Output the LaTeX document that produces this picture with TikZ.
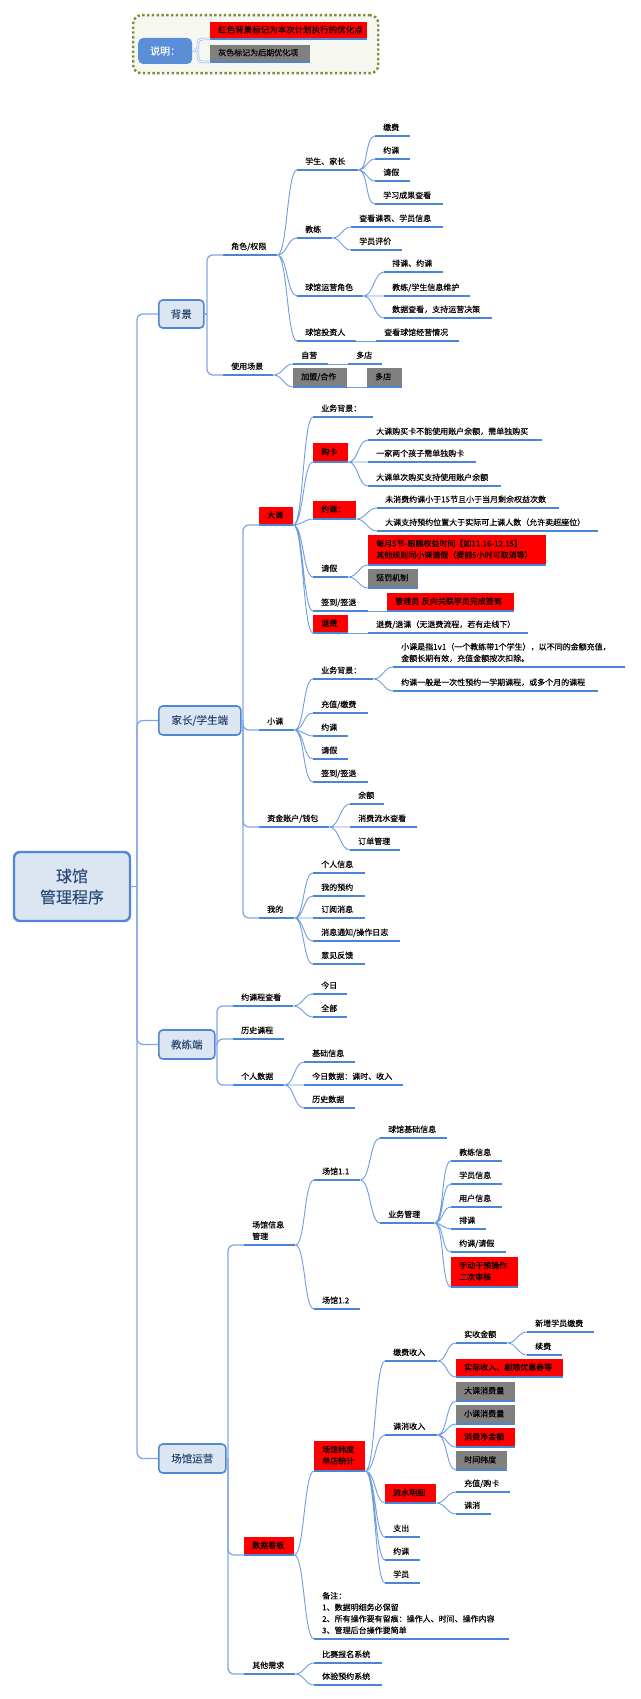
\documentclass[tikz,border=0pt]{standalone}
\usepackage{fontspec}
\setmainfont{Noto Sans CJK SC}[FakeBold=0.12]
\definecolor{lineblue}{RGB}{74,134,216}
\definecolor{connblue}{RGB}{112,157,226}
\definecolor{trunkblue}{RGB}{128,168,230}
\definecolor{boxfill}{RGB}{220,230,243}
\definecolor{boxdraw}{RGB}{80,134,212}
\definecolor{boxtext}{RGB}{45,75,120}
\definecolor{markred}{RGB}{255,0,0}
\definecolor{markgray}{RGB}{128,128,128}
\definecolor{keyblue}{RGB}{90,142,214}
\definecolor{framegreen}{RGB}{118,146,60}
\definecolor{framefill}{RGB}{245,247,240}
\newcommand{\leaffont}{\fontsize{8}{11.5}\selectfont}
\tikzset{
  uline/.style={draw=lineblue, fill=none, line width=2.2pt},
  topic base/.style={anchor=south west, inner xsep=8pt, inner ysep=3.5pt, align=left,
    font=\leaffont, text=black,
    execute at end node={\rule[-2pt]{0pt}{0pt}},
    append after command={(\tikzlastnode.south west) edge[uline] (\tikzlastnode.south east)}},
  topic/.code={\pgfmathsetlengthmacro\topicwd{#1-16}%
    \tikzset{topic base, text width/.expanded=\topicwd}},
  redbox/.style 2 args={topic=#1, fill=markred, minimum height=#2},
  graybox/.style 2 args={topic=#1, fill=markgray, minimum height=#2},
  mainbox/.style={draw=boxdraw, fill=boxfill, line width=1.6pt, rounded corners=4pt,
    text=boxtext, font=\fontsize{10.5}{12}\selectfont, anchor=west, inner sep=0pt},
  rootbox/.style={mainbox, line width=2.4pt, rounded corners=6pt, anchor=center,
    font=\fontsize{16}{21}\selectfont, align=center, minimum width=116, minimum height=69},
  curve/.style={draw=connblue, line width=0.9pt},
  link/.style={out=0, in=180, max distance=10pt},
  trunk/.style={draw=trunkblue, line width=1.3pt, rounded corners=6pt},
  bracket/.style={draw=trunkblue, double=white, double distance=1.2pt, line width=0.6pt, rounded corners=4pt},
}
\begin{document}
\begin{tikzpicture}[x=1pt, y=-1pt]
        \fill[white] (0,0) rectangle (640,1699);
        \useasboundingbox (0,0) rectangle (640,1699);
        \node[draw=framegreen, fill=framefill, line width=2.4pt, dash pattern=on 2.4pt off 2.4pt,
              rounded corners=8pt, minimum width=245, minimum height=58, anchor=north west,
              inner sep=0pt] (legend) at (132,14) {};
        \node[fill=keyblue, rounded corners=5pt, text=white, font=\fontsize{10}{12}\selectfont,
              minimum width=54, minimum height=26, anchor=west, inner sep=0pt] (legkey) at (138,51) {说明：};
        \node[redbox={157}{17}, font=\fontsize{8.5}{10}\selectfont] (legred) at (210,39) {红色背景标记为本次计划执行的优化点};
        \node[graybox={100}{17}] (leggray) at (210,62) {灰色标记为后期优化项};
        \coordinate (legfork) at (198,51);
        \draw[bracket] (legkey.east) -- (legfork) |- (legred.south west) (legfork) |- (leggray.south west);

        \node[rootbox] (root) at (72,886.5) {球馆\\管理程序};
        \node[mainbox, minimum width=45, minimum height=28] (bg) at (158,314) {背景};
        \node[mainbox, minimum width=82, minimum height=29] (ps) at (158,720.5) {家长/学生端};
        \node[mainbox, minimum width=56, minimum height=29] (co) at (158,1044.5) {教练端};
        \node[mainbox, minimum width=67, minimum height=29] (ven) at (158,1458.5) {场馆运营};

        \node[topic=54] (role) at (223,255) {角色/权限};
        \node[topic=50] (scene) at (223,375) {使用场景};
        \node[topic=61] (stu) at (297,170) {学生、家长};
        \node[topic=35] (pay) at (375,136) {缴费};
        \node[topic=35] (book) at (375,159) {约课};
        \node[topic=35] (leave) at (375,181) {请假};
        \node[topic=68] (result) at (375,204) {学习成果查看};
        \node[topic=35] (coach) at (297,238) {教练};
        \node[topic=92] (sched) at (351,227) {查看课表、学员信息};
        \node[topic=51] (eval) at (351,250) {学员评价};
        \node[topic=66] (opr) at (297,296) {球馆运营角色};
        \node[topic=59] (arrange) at (384,272) {排课、约课};
        \node[topic=86] (maint) at (384,296) {教练/学生信息维护};
        \node[topic=108] (dataview) at (384,318) {数据查看，支持运营决策};
        \node[topic=59] (inv) at (297,341) {球馆投资人};
        \node[topic=83] (invview) at (376,341) {查看球馆经营情况};
        \node[topic=35] (self) at (293,364) {自营};
        \node[topic=34] (selfmulti) at (348,364) {多店};
        \node[graybox={54}{19}] (join) at (293,387) {加盟/合作};
        \node[graybox={35}{19}] (joinmulti) at (367,387) {多店};

        \node[redbox={34}{18}] (big) at (259,525) {大课};
        \node[topic=35] (small) at (259,730) {小课};
        \node[topic=70] (wallet) at (259,827) {资金账户/钱包};
        \node[topic=35] (mine) at (259,918) {我的};
        \node[topic=60] (bigbg) at (313,417) {业务背景：};
        \node[redbox={35}{19}] (card) at (313,462) {购卡};
        \node[topic=174] (card1) at (368,440) {大课购买卡不能使用账户余额，需单独购买};
        \node[topic=108] (card2) at (368,462) {一家两个孩子需单独购卡};
        \node[topic=133] (card3) at (368,486) {大课单次购买支持使用账户余额};
        \node[redbox={43}{18}] (bigbook) at (313,519) {约课：};
        \node[topic=182] (bb1) at (377,508) {未消费约课小于15节且小于当月剩余权益次数};
        \node[topic=221] (bb2) at (377,531) {大课支持预约位置大于实际可上课人数（允许卖超座位）};
        \node[topic=35] (bigleave) at (313,577) {请假};
        \node[redbox={178}{30}] (bl1) at (368,565) {每月5节-跟随权益时间【如11.16-12.15】\\其他规则同小课请假（提前5小时可取消等）};
        \node[graybox={50}{19}] (bl2) at (368,588) {惩罚机制};
        \node[topic=55] (bigsign) at (313,611) {签到/签退};
        \node[redbox={127}{18}] (bs1) at (387,611) {管理员 反向关联学员完成签到};
        \node[redbox={35}{18}] (refund) at (313,633) {退费};
        \node[topic=160] (rf1) at (368,633) {退费/退课（无退费流程，若有走线下）};
        \node[topic=60] (smbg) at (313,679) {业务背景：};
        \node[topic=232] (sb1) at (393,667) {小课是指1v1（一个教练带1个学生），以不同的金额充值，\\金额长期有效，充值金额按次扣除。};
        \node[topic=205] (sb2) at (393,691) {约课一般是一次性预约一学期课程，或多个月的课程};
        \node[topic=55] (smpay) at (313,713) {充值/缴费};
        \node[topic=35] (smbook) at (313,736) {约课};
        \node[topic=35] (smleave) at (313,759) {请假};
        \node[topic=55] (smsign) at (313,782) {签到/签退};
        \node[topic=34] (bal) at (350,804) {余额};
        \node[topic=67] (flow) at (350,827) {消费流水查看};
        \node[topic=50] (order) at (350,850) {订单管理};
        \node[topic=52] (info) at (313,873) {个人信息};
        \node[topic=52] (myres) at (313,896) {我的预约};
        \node[topic=52] (sub) at (313,918) {订阅消息};
        \node[topic=87] (notice) at (313,941) {消息通知/操作日志};
        \node[topic=52] (fb) at (313,964) {意见反馈};

        \node[topic=60] (cbook) at (233,1006) {约课程查看};
        \node[topic=34] (today) at (313,994) {今日};
        \node[topic=34] (all) at (313,1017) {全部};
        \node[topic=51] (chist) at (233,1039) {历史课程};
        \node[topic=51] (cdata) at (233,1085) {个人数据};
        \node[topic=51] (base) at (304,1062) {基础信息};
        \node[topic=99] (tdata) at (304,1085) {今日数据：课时、收入};
        \node[topic=51] (hdata) at (304,1108) {历史数据};

        \node[topic=51] (vinfo) at (244,1245) {场馆信息\\管理};
        \node[topic=46] (v11) at (314,1180) {场馆1.1};
        \node[topic=67] (vbase) at (380,1138) {球馆基础信息};
        \node[topic=54] (vbiz) at (380,1223) {业务管理};
        \node[topic=51] (b1) at (451,1161) {教练信息};
        \node[topic=51] (b2) at (451,1184) {学员信息};
        \node[topic=51] (b3) at (451,1207) {用户信息};
        \node[topic=35] (b4) at (451,1229) {排课};
        \node[topic=55] (b5) at (451,1252) {约课/请假};
        \node[redbox={67}{30}] (b6) at (451,1287) {手动干预操作\\二次审核};
        \node[topic=46] (v12) at (314,1309) {场馆1.2};
        \node[redbox={50}{18}] (board) at (244,1555) {数据看板};
        \node[redbox={51}{30}] (stat) at (314,1471) {场馆纬度\\单店统计};
        \node[topic=52] (inc) at (385,1361) {缴费收入};
        \node[topic=51] (real) at (456,1343) {实收金额};
        \node[topic=67] (newpay) at (527,1332) {新增学员缴费};
        \node[topic=35] (renew) at (527,1355) {续费};
        \node[redbox={107}{18}] (net) at (456,1377) {实际收入、剔除优惠券等};
        \node[topic=52] (cons) at (385,1435) {课消收入};
        \node[graybox={59}{19}] (cbig) at (456,1401) {大课消费量};
        \node[graybox={59}{19}] (csmall) at (456,1424) {小课消费量};
        \node[redbox={59}{19}] (cnet) at (456,1447) {消费净金额};
        \node[graybox={51}{19}] (ctime) at (456,1470) {时间纬度};
        \node[redbox={51}{19}] (flowd) at (385,1503) {流水明细};
        \node[topic=54] (fcard) at (456,1492) {充值/购卡};
        \node[topic=35] (fcons) at (456,1514) {课消};
        \node[topic=35] (expense) at (385,1537) {支出};
        \node[topic=35] (vbook) at (385,1560) {约课};
        \node[topic=35] (vstu) at (385,1583) {学员};
        \node[topic=195] (note) at (314,1639) {备注：\\1、数据明细务必保留\\2、所有操作要有留痕：操作人、时间、操作内容\\3、管理后台操作要简单};
        \node[topic=51] (other) at (244,1674) {其他需求};
        \node[topic=68] (race) at (314,1663) {比赛报名系统};
        \node[topic=68] (trial) at (314,1685) {体验预约系统};

        \coordinate (hub) at (137,886.5);
        \draw[trunk] (bg.west) -| (hub) |- (ven.west);
        \draw[trunk] (root.east) -- (hub) (hub) |- (ps.west) (hub) |- (co.west);
        \coordinate (bghub) at (207,314);
        \draw[trunk] (role.south west) -| (bghub) |- (scene.south west);
        \draw[trunk] (bg.east) -- (bghub);
        \coordinate (pshub) at (243,720.5);
        \draw[trunk] (big.south west) -| (pshub) |- (mine.south west);
        \draw[trunk] (ps.east) -- (pshub) (pshub) |- (small.south west) (pshub) |- (wallet.south west);
        \coordinate (cohub) at (217,1044.5);
        \draw[trunk] (cbook.south west) -| (cohub) |- (cdata.south west);
        \draw[trunk] (co.east) -- (cohub) (cohub) |- (chist.south west);
        \coordinate (venhub) at (228,1458.5);
        \draw[trunk] (vinfo.south west) -| (venhub) |- (other.south west);
        \draw[trunk] (ven.east) -- (venhub) (venhub) |- (board.south west);

        \draw[curve] (role.south east) to[link] (stu.south west) (role.south east) to[link] (coach.south west)
                     (role.south east) to[link] (opr.south west) (role.south east) to[link] (inv.south west);
        \draw[curve] (stu.south east) to[link] (pay.south west) (stu.south east) to[link] (book.south west)
                     (stu.south east) to[link] (leave.south west) (stu.south east) to[link] (result.south west);
        \draw[curve] (coach.south east) to[link] (sched.south west) (coach.south east) to[link] (eval.south west);
        \draw[curve] (opr.south east) to[link] (arrange.south west) (opr.south east) to[link] (maint.south west)
                     (opr.south east) to[link] (dataview.south west);
        \draw[curve] (inv.south east) -- (invview.south west);
        \draw[curve] (scene.south east) to[link] (self.south west) (scene.south east) to[link] (join.south west);
        \draw[curve] (self.south east) -- (selfmulti.south west) (join.south east) -- (joinmulti.south west);

        \draw[curve] (big.south east) to[link] (bigbg.south west) (big.south east) to[link] (card.south west)
                     (big.south east) to[link] (bigbook.south west) (big.south east) to[link] (bigleave.south west)
                     (big.south east) to[link] (bigsign.south west) (big.south east) to[link] (refund.south west);
        \draw[curve] (card.south east) to[link] (card1.south west) (card.south east) to[link] (card2.south west)
                     (card.south east) to[link] (card3.south west);
        \draw[curve] (bigbook.south east) to[link] (bb1.south west) (bigbook.south east) to[link] (bb2.south west);
        \draw[curve] (bigleave.south east) to[link] (bl1.south west) (bigleave.south east) to[link] (bl2.south west);
        \draw[curve] (bigsign.south east) -- (bs1.south west) (refund.south east) -- (rf1.south west);
        \draw[curve] (small.south east) to[link] (smbg.south west) (small.south east) to[link] (smpay.south west)
                     (small.south east) to[link] (smbook.south west) (small.south east) to[link] (smleave.south west)
                     (small.south east) to[link] (smsign.south west);
        \draw[curve] (smbg.south east) to[link] (sb1.south west) (smbg.south east) to[link] (sb2.south west);
        \draw[curve] (wallet.south east) to[link] (bal.south west) (wallet.south east) to[link] (flow.south west)
                     (wallet.south east) to[link] (order.south west);
        \draw[curve] (mine.south east) to[link] (info.south west) (mine.south east) to[link] (myres.south west)
                     (mine.south east) to[link] (sub.south west) (mine.south east) to[link] (notice.south west)
                     (mine.south east) to[link] (fb.south west);

        \draw[curve] (cbook.south east) to[link] (today.south west) (cbook.south east) to[link] (all.south west);
        \draw[curve] (cdata.south east) to[link] (base.south west) (cdata.south east) to[link] (tdata.south west)
                     (cdata.south east) to[link] (hdata.south west);

        \draw[curve] (vinfo.south east) to[link] (v11.south west) (vinfo.south east) to[link] (v12.south west);
        \draw[curve] (v11.south east) to[link] (vbase.south west) (v11.south east) to[link] (vbiz.south west);
        \draw[curve] (vbiz.south east) to[link] (b1.south west) (vbiz.south east) to[link] (b2.south west)
                     (vbiz.south east) to[link] (b3.south west) (vbiz.south east) to[link] (b4.south west)
                     (vbiz.south east) to[link] (b5.south west) (vbiz.south east) to[link] (b6.south west);
        \draw[curve] (board.south east) to[link] (stat.south west) (board.south east) to[link] (note.south west);
        \draw[curve] (stat.south east) to[link] (inc.south west) (stat.south east) to[link] (cons.south west)
                     (stat.south east) to[link] (flowd.south west) (stat.south east) to[link] (expense.south west)
                     (stat.south east) to[link] (vbook.south west) (stat.south east) to[link] (vstu.south west);
        \draw[curve] (inc.south east) to[link] (real.south west) (inc.south east) to[link] (net.south west);
        \draw[curve] (real.south east) to[link] (newpay.south west) (real.south east) to[link] (renew.south west);
        \draw[curve] (cons.south east) to[link] (cbig.south west) (cons.south east) to[link] (csmall.south west)
                     (cons.south east) to[link] (cnet.south west) (cons.south east) to[link] (ctime.south west);
        \draw[curve] (flowd.south east) to[link] (fcard.south west) (flowd.south east) to[link] (fcons.south west);
        \draw[curve] (other.south east) to[link] (race.south west) (other.south east) to[link] (trial.south west);
\end{tikzpicture}
\end{document}
